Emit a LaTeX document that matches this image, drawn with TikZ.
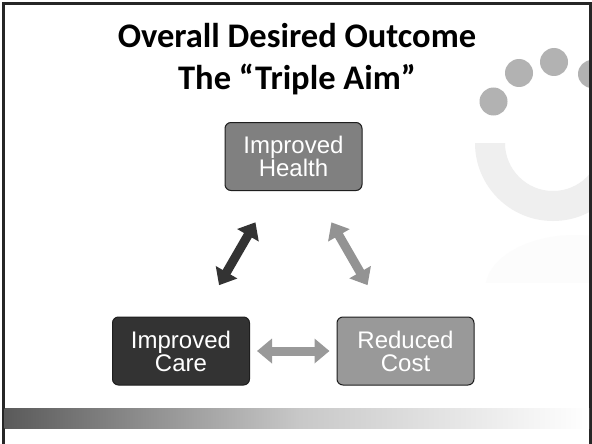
\documentclass[tikz,border=0pt]{standalone}
\usepackage{fontspec}
\setmainfont{Liberation Sans}
\newfontfamily\titlefont{Carlito}
\usetikzlibrary{arrows.meta}

\definecolor{healthfill}{HTML}{808080}
\definecolor{carefill}{HTML}{333333}
\definecolor{costfill}{HTML}{999999}
\definecolor{boxline}{HTML}{1E1E1E}
\definecolor{dotgray}{HTML}{B2B2B2}
\definecolor{ringgray}{HTML}{EFEFEF}
\definecolor{faintgray}{HTML}{FCFCFC}
\definecolor{barstart}{HTML}{5A5A5A}
\definecolor{barmid}{HTML}{C8C8C8}

\tikzset{
  aimbox/.style={draw=boxline, line width=1pt, rounded corners=6pt,
    minimum width=137pt, minimum height=68pt, inner sep=0pt,
    align=center, text=white, font=\fontsize{24}{23}\selectfont},
  fatarrow/.style={line width=9pt,
    {Triangle[width=24pt,length=15pt]}-{Triangle[width=24pt,length=15pt]},
    shorten <=76pt, shorten >=76pt},
  titleline/.style={anchor=base, inner sep=0pt,
    font=\titlefont\bfseries\fontsize{34.5}{40}\selectfont},
  dot/.style={fill=dotgray}
}

\begin{document}
\begin{tikzpicture}[x=1pt, y=-1pt]
  \useasboundingbox (0,0) rectangle (592,444);
  \fill[white] (0,0) rectangle (592,444);

  % decorative background: faint ring and dots on the right
  \begin{scope}
    \clip (440,143) rectangle (590,300);
    \fill[ringgray, even odd rule] (553,143) circle (78pt) (553,143) circle (48pt);
  \end{scope}
  \begin{scope}
    \clip (480,232) rectangle (590,282);
    \fill[faintgray] (575,290) ellipse (90pt and 55pt);
  \end{scope}
  \fill[dot] (493.5,101.5) circle (14pt);
  \fill[dot] (519,73) circle (14pt);
  \fill[dot] (554,62) circle (14pt);
  \fill[dot] (592,74) circle (14pt);

  % frame
  \draw[line width=3pt, black!85] (3,444) -- (3,4) -- (590.5,4) -- (590.5,444);

  % bottom gradient bar
  \shade[left color=barstart, right color=barmid] (4.5,408) rectangle (300,428);
  \shade[left color=barmid, right color=white] (299.5,408) rectangle (589,428);

  % title
  \node[titleline] (title1) at (297,48) {Overall Desired Outcome};
  \node[titleline] (title2) at (297,89) {The “Triple Aim”};

  % the three aims
  \node[aimbox, fill=healthfill] (health) at (293.5,156.5) {Improved\\Health};
  \node[aimbox, fill=carefill]   (care)   at (181,351)     {Improved\\Care};
  \node[aimbox, fill=costfill]   (cost)   at (405.5,351)   {Reduced\\Cost};

  % two-way links
  \draw[fatarrow, draw=carefill, fill=carefill] (health.center) -- (care.center);
  \draw[fatarrow, draw=healthfill!85!white, fill=healthfill!85!white] (health.center) -- (cost.center);
  \draw[fatarrow, draw=costfill, fill=costfill] (care.center) -- (cost.center);
\end{tikzpicture}
\end{document}
